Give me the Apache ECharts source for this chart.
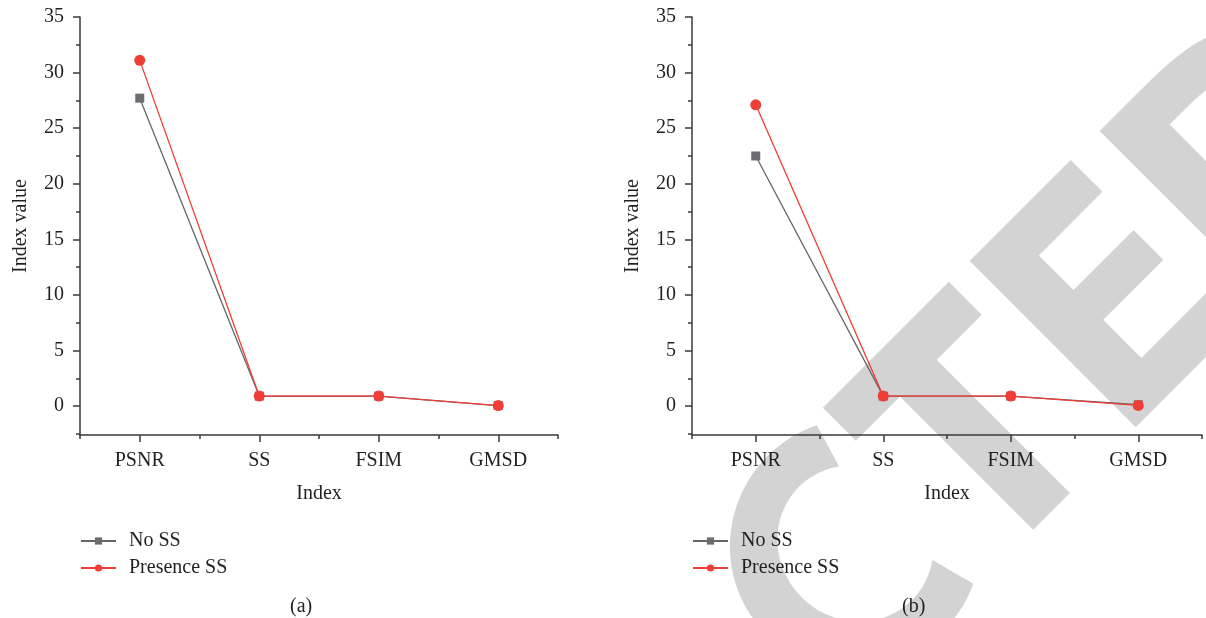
<!DOCTYPE html>
<html>
<head>
<meta charset="utf-8">
<script src="https://cdn.jsdelivr.net/npm/echarts@6/dist/echarts.min.js"></script>
<style>html,body{margin:0;padding:0;background:#fff}#c{width:1206px;height:618px}</style>
</head>
<body>
<div id="c"></div>
<script>
// ---- data ----
const categories = ['PSNR', 'SS', 'FSIM', 'GMSD'];
const seriesNames = ['No SS', 'Presence SS'];
const noSS_a = [27.7, 0.9, 0.9, 0.05];
const presSS_a = [31.1, 0.9, 0.9, 0.05];
const noSS_b = [22.5, 0.9, 0.9, 0.12];
const presSS_b = [27.1, 0.9, 0.9, 0.06];
const yMajorTicks = [0, 5, 10, 15, 20, 25, 30, 35];
const yMinorTicks = [-2.5, 2.5, 7.5, 12.5, 17.5, 22.5, 27.5, 32.5];
const panelLabels = ['(a)', '(b)'];
const yName = 'Index value';
const xName = 'Index';

const FONT = '"Liberation Serif", "DejaVu Serif", serif';
const TXT = '#231f20';
const GREY = '#6b6b70';
const RED = '#ef3e37';
const AXIS = '#3a3a3a';
const WM = '#d3d3d3';

// category positions on a value axis (1..n), boundaries in between
const catPos = categories.map((c, k) => k + 1);
const catBounds = [0.5].concat(catPos.map(p => p + 0.5));

const grids = [
  {left: 80, top: 17, width: 478, height: 418},
  {left: 692, top: 17, width: 510, height: 418}
];

const xAxes = [], yAxes = [], series = [], legends = [];
const dataSets = [[noSS_a, presSS_a], [noSS_b, presSS_b]];
const legendLeft = [80, 692];

grids.forEach((g, i) => {
  xAxes.push({
    type: 'value', gridIndex: i, min: 0.5, max: categories.length + 0.5,
    name: xName, nameLocation: 'middle', nameGap: 49,
    nameTextStyle: {fontFamily: FONT, fontSize: 20, color: TXT},
    axisLine: {onZero: false, lineStyle: {color: AXIS, width: 1.5}},
    axisTick: {show: true, length: 7, customValues: catPos, lineStyle: {color: AXIS, width: 1.5}},
    axisLabel: {customValues: catPos, margin: 16, fontFamily: FONT, fontSize: 20, color: TXT,
      formatter: v => categories[Math.round(v) - 1] || ''},
    splitLine: {show: false}
  });
  xAxes.push({
    type: 'value', gridIndex: i, min: 0.5, max: categories.length + 0.5, position: 'bottom',
    axisLine: {show: false, onZero: false},
    axisTick: {show: true, length: 4, customValues: catBounds, lineStyle: {color: AXIS, width: 1.5}},
    axisLabel: {show: false, customValues: catBounds},
    splitLine: {show: false}
  });
  yAxes.push({
    type: 'value', gridIndex: i, min: -2.6, max: 35,
    name: yName, nameLocation: 'middle', nameGap: 49, nameRotate: 90,
    nameTextStyle: {fontFamily: FONT, fontSize: 20, color: TXT},
    axisLine: {show: true, onZero: false, lineStyle: {color: AXIS, width: 1.5}},
    axisTick: {show: true, length: 7, customValues: yMajorTicks, lineStyle: {color: AXIS, width: 1.5}},
    axisLabel: {customValues: yMajorTicks, margin: 16, fontFamily: FONT, fontSize: 20, color: TXT},
    splitLine: {show: false}
  });
  yAxes.push({
    type: 'value', gridIndex: i, min: -2.6, max: 35, position: 'left',
    axisLine: {show: false, onZero: false},
    axisTick: {show: true, length: 4, customValues: yMinorTicks, lineStyle: {color: AXIS, width: 1.5}},
    axisLabel: {show: false, customValues: yMinorTicks},
    splitLine: {show: false}
  });
  const [d0, d1] = dataSets[i];
  series.push({
    name: seriesNames[0], type: 'line', xAxisIndex: i * 2, yAxisIndex: i * 2,
    data: d0.map((v, k) => [catPos[k], v]), symbol: 'rect', symbolSize: 9, z: 3,
    itemStyle: {color: GREY}, lineStyle: {color: '#666', width: 1.3}
  });
  series.push({
    name: seriesNames[1], type: 'line', xAxisIndex: i * 2, yAxisIndex: i * 2,
    data: d1.map((v, k) => [catPos[k], v]), symbol: 'circle', symbolSize: 11, z: 4,
    itemStyle: {color: RED}, lineStyle: {color: RED, width: 1.3}
  });
  legends.push({
    orient: 'vertical', left: legendLeft[i], top: 531, padding: 0,
    itemWidth: 35, itemHeight: 9, itemGap: 7,
    data: seriesNames,
    textStyle: {fontFamily: FONT, fontSize: 20, color: TXT, padding: [0, 0, 0, 8]},
    selectedMode: false
  });
});

// ---- watermark (decoration): letters in a rotated frame; s along baseline, h above baseline ----
function P(pts) { return pts.map(p => [p[0], -p[1]]); }
function ellArc(cs, ch, a, b, t0, t1, n) {
  const out = [];
  for (let k = 0; k <= n; k++) {
    const t = (t0 + (t1 - t0) * k / n) * Math.PI / 180;
    out.push([cs + a * Math.cos(t), ch + b * Math.sin(t)]);
  }
  return out;
}
function superArc(cs, ch, a, b, e, t0, t1, n) {
  const out = [];
  for (let k = 0; k <= n; k++) {
    const t = (t0 + (t1 - t0) * k / n) * Math.PI / 180;
    const c = Math.cos(t), s = Math.sin(t);
    out.push([cs + a * Math.sign(c) * Math.pow(Math.abs(c), 2 / e), ch + b * Math.sign(s) * Math.pow(Math.abs(s), 2 / e)]);
  }
  return out;
}
const cShape = ellArc(220.5, 116, 127, 124, 63.6, 295.6, 60)
  .concat(ellArc(220.5, 116, 76, 80, 304.3, 55.6, 60));
const tShape = [[293.5, 235], [471.6, 235], [471.6, 188.5], [408, 188.5], [408, 0], [356, 0], [356, 188.5], [293.5, 188.5]];
const eShape = [[501, 235], [644, 235], [644, 190], [554, 190], [554, 141], [639, 141], [639, 99], [554, 99], [554, 45], [652, 45], [652, 0], [501, 0]];
const dShape = [[685, 235]].concat(superArc(731, 117.5, 150, 117.5, 3.2, 90, -90, 60))
  .concat([[685, 0], [685, 235]]);
const dHole = [[739, 190]].concat(superArc(760, 117.5, 69, 72.5, 3.2, 90, -90, 60)).concat([[739, 45]]);

const chart = echarts.init(document.getElementById('c'), null, {renderer: 'canvas'});
chart.setOption({
  animation: false,
  backgroundColor: '#fff',
  grid: grids,
  xAxis: xAxes,
  yAxis: yAxes,
  legend: legends,
  series: series,
  graphic: [
    {
      type: 'group', x: 781.5, y: 781.5, rotation: Math.PI / 4, z: -100, silent: true,
      children: [
        {type: 'polygon', z: -100, shape: {points: P(cShape)}, style: {fill: WM}},
        {type: 'polygon', z: -100, shape: {points: P(tShape)}, style: {fill: WM}},
        {type: 'polygon', z: -100, shape: {points: P(eShape)}, style: {fill: WM}},
        {type: 'polygon', z: -100, shape: {points: P(dShape)}, style: {fill: WM}},
        {type: 'polygon', z: -99, shape: {points: P(dHole)}, style: {fill: '#fff'}}
      ]
    },
    {
      type: 'text', left: 290, top: 597,
      style: {text: panelLabels[0], font: '20px ' + FONT, fill: TXT}
    },
    {
      type: 'text', left: 902, top: 597,
      style: {text: panelLabels[1], font: '20px ' + FONT, fill: TXT}
    }
  ]
});
</script>
</body>
</html>
